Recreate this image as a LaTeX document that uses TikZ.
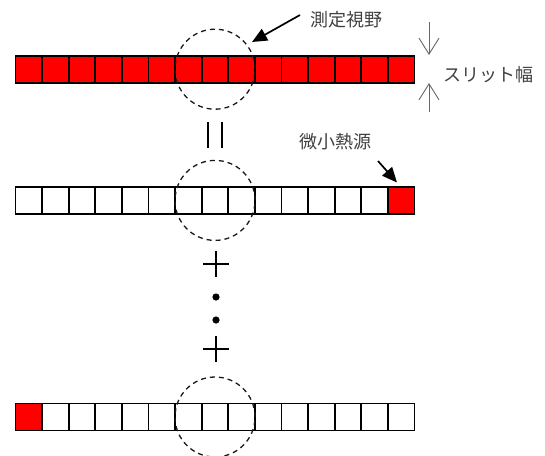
\documentclass[tikz,border=0pt]{standalone}
\usepackage{fontspec}
\newfontfamily\jp{Noto Sans CJK JP}
\usetikzlibrary{arrows.meta}
\begin{document}
\begin{tikzpicture}[x=1pt,y=-1pt,
  cell/.style={draw=black,line width=1.8pt,minimum width=26.6pt,minimum height=27pt,
               inner sep=0pt,outer sep=0pt,fill=white},
  hot/.style={cell,fill=red},
  fov/.style={circle,draw=black!90,dash pattern=on 5pt off 4pt,line width=1.3pt,
              minimum size=80pt,inner sep=0pt},
  lbl/.style={font=\jp\fontsize{18}{20}\selectfont,text=black!75,inner sep=0pt},
  ptr/.style={draw=black,line width=1.7pt,-{Triangle[length=15pt,width=13pt]}},
  gauge/.style={draw=black!60,line width=0.9pt,-{Straight Barb[length=16pt,width=20pt]}},
  sym/.style={draw=black,line width=1.6pt}
]
\useasboundingbox (0,0) rectangle (545,455);

% row 1: the whole slit is hot
\foreach \i in {1,...,15}
  \node[hot] (a\i) at ({15.5+26.6*(\i-0.5)},69.2) {};
% row 2: hot element at the right end
\foreach \i in {1,...,14}
  \node[cell] (b\i) at ({15.5+26.6*(\i-0.5)},200.4) {};
\node[hot] (b15) at ({15.5+26.6*14.5},200.4) {};
% row 3: hot element at the left end
\node[hot] (c1) at ({15.5+26.6*0.5},417) {};
\foreach \i in {2,...,15}
  \node[cell] (c\i) at ({15.5+26.6*(\i-0.5)},417) {};

% field of view circles
\node[fov] (fovA) at (a8) {};
\node[fov] (fovB) at (b8) {};
\node[fov] (fovC) at (c8) {};

% equals sign
\draw[sym] (208,122) -- (208,148);
\draw[sym] (222,122) -- (222,148);
% plus, dots, plus
\draw[sym] (203,264) -- (229,264) (216,251) -- (216,277);
\fill (216,297) circle (3.6);
\fill (216,320) circle (3.6);
\draw[sym] (203,349) -- (229,349) (216,336) -- (216,362);

% labels
\node[lbl] (fovlabel) at (346.5,20) {測定視野};
\node[lbl] (slitlabel) at (488,75) {スリット幅};
\node[lbl] (heatlabel) at (335,142) {微小熱源};

% pointers
\coordinate (fovtail) at (300,15);
\coordinate (fovtip) at (252,42);
\draw[ptr] (fovtail) -- (fovtip);
\coordinate (heattail) at (378,161);
\coordinate (heattip) at (397,182.5);
\draw[ptr] (heattail) -- (heattip);

% slit width gauge
\coordinate (gdownA) at (429,22);
\coordinate (gdownB) at (429,55);
\coordinate (gupA) at (429,112);
\coordinate (gupB) at (429,83);
\draw[gauge] (gdownA) -- (gdownB);
\draw[gauge] (gupA) -- (gupB);
\end{tikzpicture}
\end{document}
